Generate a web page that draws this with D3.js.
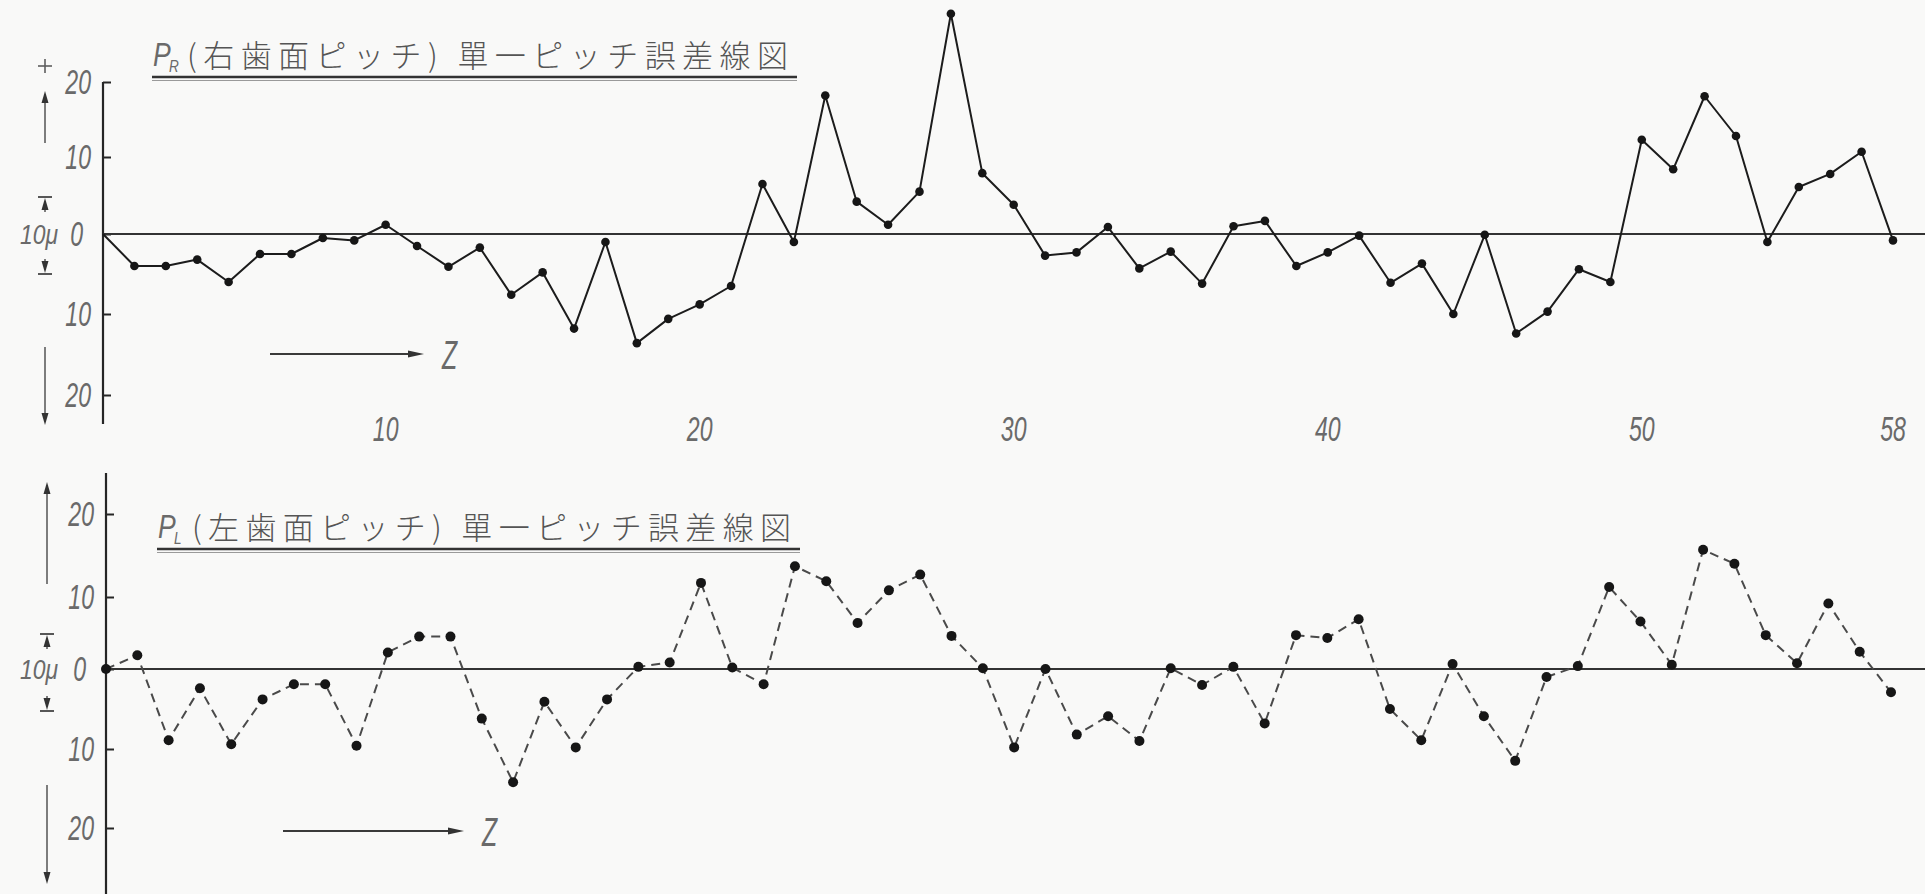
<!DOCTYPE html>
<html>
<head>
<meta charset="utf-8">
<script src="https://cdn.jsdelivr.net/npm/d3@7"></script>
<style>
  html, body { margin: 0; padding: 0; background: #f9f9f8; }
  svg { display: block; }
  .num { font-family: "Liberation Sans", "DejaVu Sans", sans-serif; font-style: italic; fill: #6a6a6a; }
  .ttl { font-family: "Noto Sans CJK JP", sans-serif; font-weight: 300; fill: #555; }
</style>
</head>
<body>
<svg id="chart" width="1925" height="894"></svg>
<script>
// Tooth number Z
const toothNo = [1,2,3,4,5,6,7,8,9,10,11,12,13,14,15,16,17,18,19,20,
  21,22,23,24,25,26,27,28,29,30,31,32,33,34,35,36,37,38,39,40,
  41,42,43,44,45,46,47,48,49,50,51,52,53,54,55,56,57,58];

// Single pitch error of the right flank, P_R (μ)
const pitchErrRight = [0,-4.0,-4.0,-3.2,-6.0,-2.5,-2.5,-0.5,-0.8,1.2,
  -1.5,-4.1,-1.7,-7.6,-4.8,-11.8,-1.0,-13.6,-10.6,-8.8,
  -6.5,6.5,-1.0,18.2,4.2,1.2,5.5,29.1,7.9,3.8,
  -2.7,-2.3,0.9,-4.3,-2.2,-6.2,1.0,1.7,-4.0,-2.3,
  -0.2,-6.1,-3.7,-10.0,-0.1,-12.4,-9.7,-4.4,-6.0,12.3,
  8.4,18.1,12.8,-1.0,6.1,7.8,10.7,-0.8];

// Single pitch error of the left flank, P_L (μ)
const pitchErrLeft = [0,1.9,-8.9,-2.4,-9.4,-3.8,-1.9,-1.9,-9.6,2.3,
  4.5,4.5,-6.2,-14.2,-4.1,-9.8,-3.8,0.3,0.9,11.7,
  0.2,-1.9,13.7,11.9,6.4,10.8,12.7,4.6,0.1,-9.8,
  0,-8.2,-5.9,-9.0,0.1,-2.0,0.3,-6.8,4.7,4.3,
  6.9,-5.0,-8.9,0.7,-5.9,-11.5,-1.0,0.4,11.2,6.6,
  0.6,15.7,14.0,4.7,0.8,9.1,2.4,-2.9];

// Axis ticks
const errTicks = [-20, -10, 0, 10, 20];
const toothTicks = [10, 20, 30, 40, 50, 58];

// Titles
const titleRight = { main: "P", sub: "R", text: "(右歯面ピッチ) 單一ピッチ誤差線図" };
const titleLeft  = { main: "P", sub: "L", text: "(左歯面ピッチ) 單一ピッチ誤差線図" };

const W = 1925, H = 894;
const svg = d3.select("#chart");
svg.append("rect").attr("width", W).attr("height", H).attr("fill", "#f9f9f8");

const INK = "#262626";
const GREY = "#5e5e5e";

// condensed italic numerals, as in the drafted lettering
function numText(g, x, y, str, size, anchor, sx) {
  return g.append("text").attr("class", "num")
    .attr("transform", `translate(${x},${y}) scale(${sx},1)`)
    .attr("text-anchor", anchor)
    .attr("font-size", size)
    .text(str);
}

// vertical arrow with a filled head at yTip
function vArrow(g, x, yTail, yTip) {
  const dir = yTip < yTail ? -1 : 1;
  g.append("line").attr("x1", x).attr("x2", x).attr("y1", yTail).attr("y2", yTip - dir * 6)
    .attr("stroke", GREY).attr("stroke-width", 1.6);
  g.append("path")
    .attr("d", `M${x},${yTip} L${x - 3.5},${yTip - dir * 12} L${x + 3.5},${yTip - dir * 12} Z`)
    .attr("fill", "#333");
}

// horizontal arrow pointing right
function hArrow(g, x1, x2, y) {
  g.append("line").attr("x1", x1).attr("x2", x2 - 10).attr("y1", y).attr("y2", y)
    .attr("stroke", "#3a3a3a").attr("stroke-width", 1.8);
  g.append("path")
    .attr("d", `M${x2},${y} L${x2 - 16},${y - 3.5} L${x2 - 16},${y + 3.5} Z`)
    .attr("fill", "#333");
}

function panel(cfg) {
  const g = svg.append("g");
  const x = d3.scaleLinear()
    .domain([toothNo[0], toothNo[toothNo.length - 1]])
    .range(cfg.xRange);
  const y = d3.scaleLinear().domain(errTicks).range(cfg.yRange);

  // vertical axis line
  g.append("line")
    .attr("x1", cfg.axisX).attr("x2", cfg.axisX)
    .attr("y1", cfg.axisTop).attr("y2", cfg.axisBottom)
    .attr("stroke", INK).attr("stroke-width", 2.2);

  // ticks on the right side of the axis
  const axis = d3.axisLeft(y).tickValues(errTicks)
    .tickSizeInner(-8).tickSizeOuter(0).tickFormat("");
  const ag = g.append("g").attr("transform", `translate(${cfg.axisX},0)`).call(axis);
  ag.select(".domain").remove();
  ag.selectAll(".tick line").attr("stroke", INK).attr("stroke-width", 2);

  // tick labels (no sign: direction is shown by the arrows)
  errTicks.forEach(v => {
    numText(g, cfg.axisX - (v === 0 ? 20 : 12), y(v) + 12, String(Math.abs(v)), 35, "end", 0.66);
  });

  // zero reference line
  g.append("line")
    .attr("x1", cfg.axisX).attr("x2", W)
    .attr("y1", y(0)).attr("y2", y(0))
    .attr("stroke", "#333").attr("stroke-width", 2);

  // unit marker: 10μ between two bars, + / − arrows
  const ax = cfg.markX;
  if (cfg.plusY) {
    g.append("line").attr("x1", ax - 7).attr("x2", ax + 7).attr("y1", cfg.plusY).attr("y2", cfg.plusY)
      .attr("stroke", GREY).attr("stroke-width", 1.6);
    g.append("line").attr("x1", ax).attr("x2", ax).attr("y1", cfg.plusY - 7).attr("y2", cfg.plusY + 7)
      .attr("stroke", GREY).attr("stroke-width", 1.6);
  }
  vArrow(g, ax, cfg.upArrow[1], cfg.upArrow[0]);
  vArrow(g, ax, cfg.downArrow[0], cfg.downArrow[1]);
  // upper bar with arrow
  g.append("line").attr("x1", ax - 7).attr("x2", ax + 7).attr("y1", cfg.unitTop).attr("y2", cfg.unitTop)
    .attr("stroke", "#444").attr("stroke-width", 1.8);
  vArrow(g, ax, cfg.unitTop + 15, cfg.unitTop + 1);
  // lower bar with arrow
  g.append("line").attr("x1", ax - 7).attr("x2", ax + 7).attr("y1", cfg.unitBottom).attr("y2", cfg.unitBottom)
    .attr("stroke", "#444").attr("stroke-width", 1.8);
  vArrow(g, ax, cfg.unitBottom - 15, cfg.unitBottom - 1);
  numText(g, 58, y(0) + 10, "10μ", 27, "end", 0.85);

  // title with double underline
  const t = cfg.title;
  numText(g, cfg.titleX, cfg.titleBase - 1, t.main, 34, "start", 0.78).attr("fill", "#555");
  numText(g, cfg.titleX + 16, cfg.titleBase + 5, t.sub, 17, "start", 0.8).attr("fill", "#555");
  g.append("text").attr("class", "ttl")
    .attr("x", cfg.titleX + 34).attr("y", cfg.titleBase)
    .attr("font-size", 31)
    .attr("textLength", cfg.titleEnd - cfg.titleX - 38)
    .attr("lengthAdjust", "spacing")
    .text(t.text);
  g.append("line").attr("x1", cfg.titleX - 1).attr("x2", cfg.titleEnd + 5)
    .attr("y1", cfg.titleBase + 10).attr("y2", cfg.titleBase + 10)
    .attr("stroke", "#333").attr("stroke-width", 2.6);
  g.append("line").attr("x1", cfg.titleX - 1).attr("x2", cfg.titleEnd + 5)
    .attr("y1", cfg.titleBase + 13.5).attr("y2", cfg.titleBase + 13.5)
    .attr("stroke", "#9a9a9a").attr("stroke-width", 1);

  // direction of tooth numbering
  hArrow(g, cfg.zArrow[0], cfg.zArrow[1], cfg.zArrow[2]);
  numText(g, cfg.zArrow[1] + 18, cfg.zArrow[2] + 15, "Z", 40, "start", 0.62);

  // error line and points
  const line = d3.line().x((d, i) => x(toothNo[i])).y(d => y(d));
  g.append("path").datum(cfg.values)
    .attr("d", line)
    .attr("fill", "none")
    .attr("stroke", cfg.lineColor)
    .attr("stroke-width", cfg.lineWidth)
    .attr("stroke-dasharray", cfg.dash)
    .attr("stroke-linejoin", "round");
  g.selectAll("circle.pt")
    .data(cfg.values.map((v, i) => ({ z: toothNo[i], v })).filter(d => cfg.firstDot || d.z !== toothNo[0]))
    .join("circle").attr("class", "pt")
    .attr("cx", d => x(d.z)).attr("cy", d => y(d.v))
    .attr("r", cfg.dotR).attr("fill", "#161616");

  // tooth number labels
  if (cfg.showTeeth) {
    toothTicks.forEach(z => numText(g, x(z), cfg.teethY, String(z), 35, "middle", 0.66));
  }
}

panel({
  values: pitchErrRight, title: titleRight,
  xRange: [103, 1893], yRange: [395, 314, 234, 157, 82],
  axisX: 103, axisTop: 82, axisBottom: 424,
  markX: 45, plusY: 66, upArrow: [91, 143], downArrow: [347, 425],
  unitTop: 197, unitBottom: 274,
  titleX: 153, titleBase: 67, titleEnd: 792,
  zArrow: [270, 424, 354],
  lineColor: "#1c1c1c", lineWidth: 2, dash: null, dotR: 4.3, firstDot: false,
  showTeeth: true, teethY: 441
});

panel({
  values: pitchErrLeft, title: titleLeft,
  xRange: [106, 1891], yRange: [828, 749, 669, 597, 514],
  axisX: 106, axisTop: 473, axisBottom: 894,
  markX: 47, plusY: null, upArrow: [482, 584], downArrow: [785, 884],
  unitTop: 634, unitBottom: 711,
  titleX: 158, titleBase: 539, titleEnd: 795,
  zArrow: [283, 464, 831],
  lineColor: "#4a4a4a", lineWidth: 2, dash: "9,6", dotR: 5, firstDot: true,
  showTeeth: false
});
</script>
</body>
</html>
